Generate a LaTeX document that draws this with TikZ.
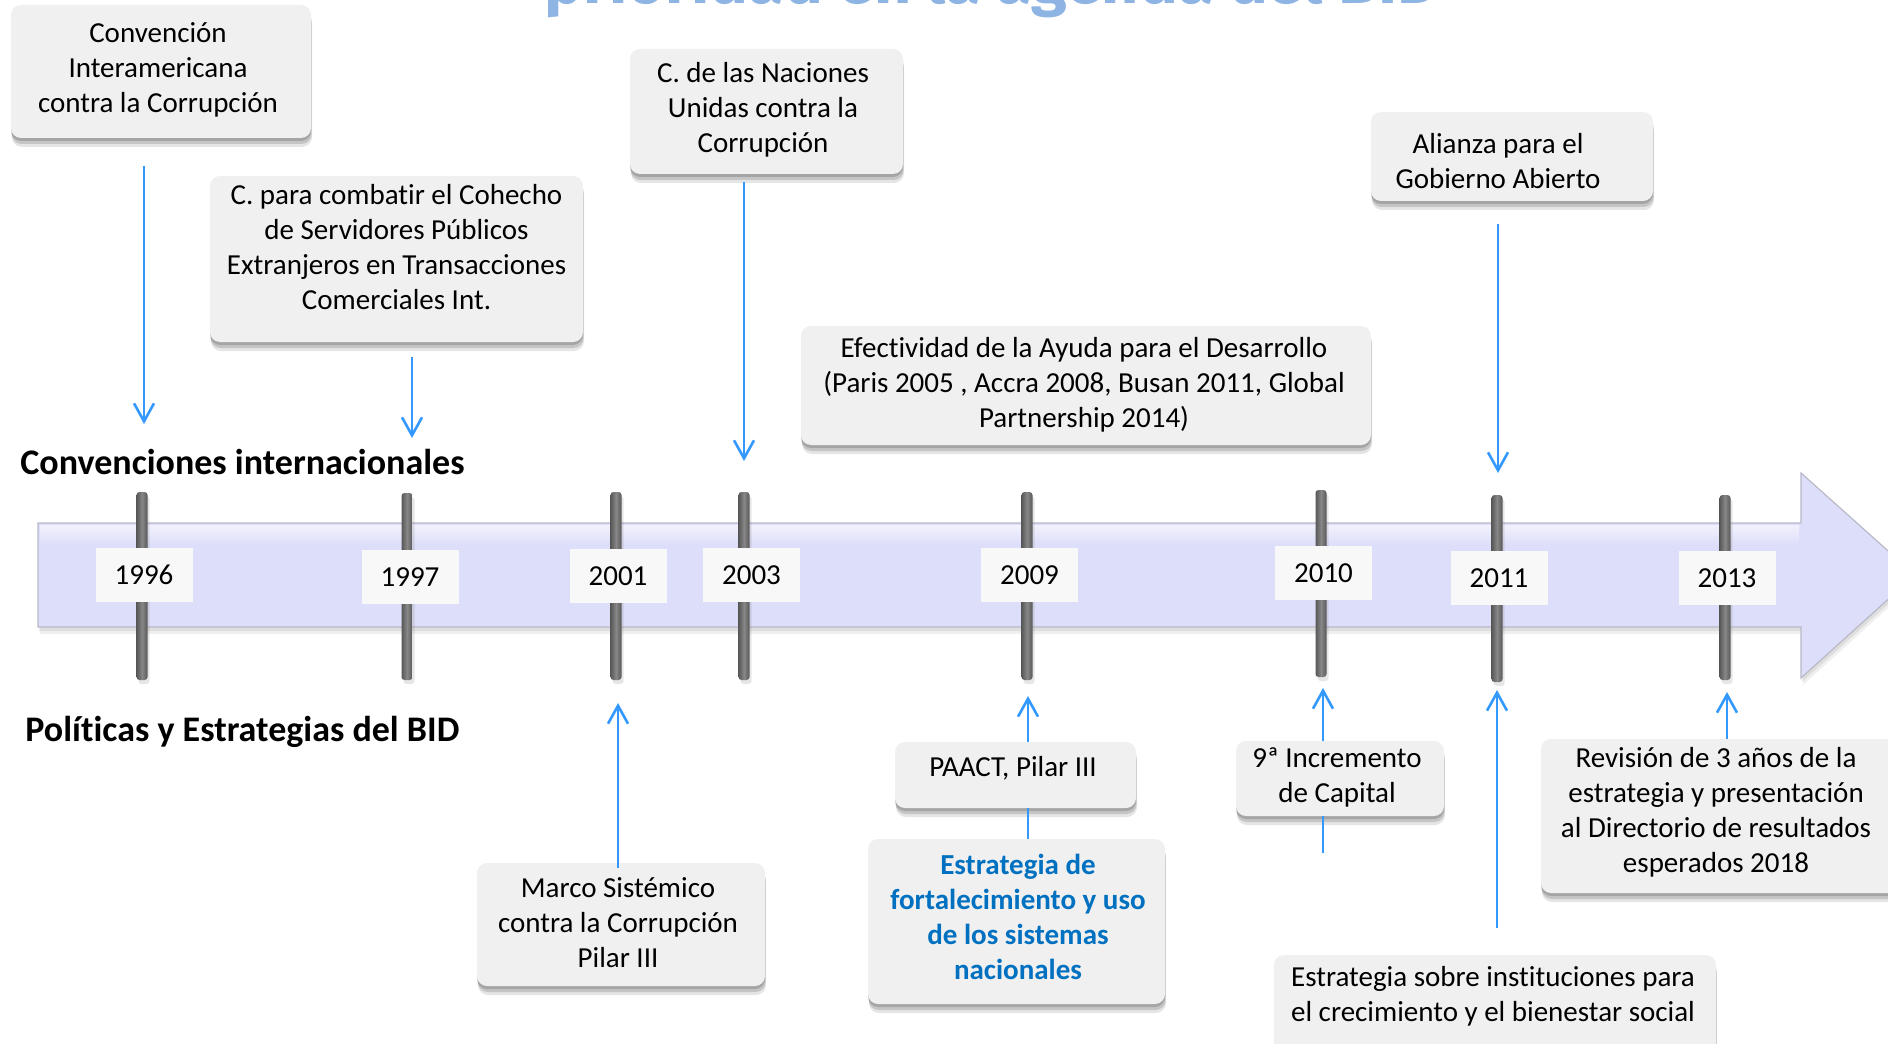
\documentclass[tikz,border=0pt]{standalone}
\usepackage{fontspec}
\setmainfont{Carlito}[Ligatures=NoCommon]
\newfontfamily\titlefont{Fira Sans}
\usetikzlibrary{arrows.meta,shadows,calc}
\definecolor{lav}{RGB}{221,222,250}
\definecolor{lavedge}{RGB}{185,185,200}
\definecolor{boxfill}{RGB}{240,240,240}
\definecolor{yearfill}{RGB}{248,248,248}
\definecolor{arrblue}{RGB}{51,153,255}
\definecolor{textblue}{RGB}{0,112,192}
\definecolor{titleblue}{RGB}{141,180,226}
\definecolor{tickdark}{RGB}{88,88,88}
\definecolor{ticklight}{RGB}{135,135,135}
\begin{document}
\begin{tikzpicture}[x=0.5pt,y=-0.5pt,
  box/.style={rectangle, rounded corners=5pt, fill=boxfill, draw=none,
    drop shadow={shadow xshift=0.5pt, shadow yshift=-4.5pt, opacity=0.10, fill=black},
    drop shadow={shadow xshift=0.3pt, shadow yshift=-3pt, opacity=0.14, fill=black},
    drop shadow={shadow xshift=0pt, shadow yshift=-1.5pt, opacity=0.16, fill=black},
    inner sep=0pt},
  txt/.style={align=center, font=\fontsize{14.5pt}{17.5pt}\selectfont, inner sep=0pt},
  head/.style={anchor=base west, inner sep=0pt, font=\bfseries\fontsize{18pt}{22pt}\selectfont},
  yearbox/.style={rectangle, fill=yearfill, draw=none, inner sep=0pt,
    minimum width=48.5pt, minimum height=27pt, font=\fontsize{14.5pt}{17.5pt}\selectfont},
  tickbar/.style={rounded corners=1.5pt, left color=tickdark, right color=tickdark, middle color=ticklight,
    drop shadow={shadow xshift=1pt, shadow yshift=-2pt, opacity=0.2}},
  arr/.style={draw=arrblue, line width=1.3pt, -{Straight Barb[length=9pt,width=10pt,line width=1.3pt]}},
  conn/.style={draw=arrblue, line width=1.3pt}
]
\path[use as bounding box, clip] (0,0) rectangle (1888,1043);

% title (cut off at top)
\node[anchor=base west, text=titleblue, inner sep=0pt] (title) at (544,4)
  {\resizebox{447.5pt}{!}{\titlefont\bfseries prioridad en la agenda del BID}};

% timeline arrow
\path[fill=lav, draw=lavedge, line width=0.6pt,
  drop shadow={shadow xshift=1pt, shadow yshift=-3.5pt, opacity=0.12},
  drop shadow={shadow xshift=0.5pt, shadow yshift=-2pt, opacity=0.16}]
  (38,523) -- (1801,523) -- (1801,473) -- (1915,575) -- (1801,678) -- (1801,627) -- (38,627) -- cycle;
\path[top color=white, bottom color=lav, opacity=0.6] (40,525) rectangle (1799,545);

% ticks
\foreach \x/\ta/\tb in {142/492/680, 407/493/680, 616/492/680, 744/492/680, 1027/492/680, 1321/490/677, 1497/495/682, 1725/495/680}{
  \path[tickbar] (\x-5.5,\ta) rectangle (\x+5.5,\tb);
}

% year labels
\node[yearbox] (y1996) at (144,575) {1996};
\node[yearbox] (y1997) at (410,577) {1997};
\node[yearbox] (y2001) at (618,576) {2001};
\node[yearbox] (y2003) at (751.5,575) {2003};
\node[yearbox] (y2009) at (1029.5,575) {2009};
\node[yearbox] (y2010) at (1323.5,573) {2010};
\node[yearbox] (y2011) at (1499,578) {2011};
\node[yearbox] (y2013) at (1727,578) {2013};

% headings
\node[head] (hconv) at (20,474) {Convenciones internacionales};
\node[head] (hpol) at (25,741) {Políticas y Estrategias del BID};

% upper boxes
\node[box, minimum width=150pt, minimum height=66.5pt] (b1) at (161,71.5) {};
\node[txt] (t1) at (158,70) {Convención\\Interamericana\\contra la Corrupción};

\node[box, minimum width=186.5pt, minimum height=83pt] (b2) at (396.5,259) {};
\node[txt] (t2) at (396.5,247) {C. para combatir el Cohecho\\de Servidores Públicos\\Extranjeros en Transacciones\\Comerciales Int.};

\node[box, minimum width=136.5pt, minimum height=62.5pt] (b3) at (766.5,111.5) {};
\node[txt] (t3) at (763,110) {C. de las Naciones\\Unidas contra la\\Corrupción};

\node[box, minimum width=285pt, minimum height=59.5pt] (b4) at (1086,385.5) {};
\node[txt] (t4) at (1084,385) {Efectividad de la Ayuda para el Desarrollo\\(Paris 2005 , Accra 2008, Busan 2011, Global\\Partnership 2014)};

\node[box, minimum width=141pt, minimum height=44.5pt] (b5) at (1512,156.5) {};
\node[txt] (t5) at (1498,161) {Alianza para el\\Gobierno Abierto};

% lower boxes
\node[box, minimum width=144pt, minimum height=61.5pt] (b6) at (621,924.5) {};
\node[txt] (t6) at (618,923) {Marco Sistémico\\contra la Corrupción\\Pilar III};

\node[box, minimum width=120.5pt, minimum height=33pt] (b7) at (1015.5,775) {};
\node[txt] (t7) at (1013,768) {PAACT, Pilar III};

\node[box, minimum width=148.5pt, minimum height=82.5pt] (b8) at (1016.5,921.5) {};
\node[txt, text=textblue, font=\bfseries\fontsize{14.5pt}{17.5pt}\selectfont] (t8) at (1018,917) {Estrategia de\\fortalecimiento y uso\\de los sistemas\\nacionales};

\node[box, minimum width=104pt, minimum height=37.5pt] (b9) at (1340,778.5) {};
\node[txt] (t9) at (1337,777) {9ª Incremento\\de Capital};

\node[box, minimum width=179.5pt, minimum height=77pt] (b10) at (1720.5,816) {};
\node[txt] (t10) at (1716,812) {Revisión de 3 años de la\\estrategia y presentación\\al Directorio de resultados\\esperados 2018};

\node[box, minimum width=221pt, minimum height=52.5pt] (b11) at (1495,1007.5) {};
\node[txt] (t11) at (1493,996) {Estrategia sobre instituciones para\\el crecimiento y el bienestar social};

% connector end points
\coordinate (a1s) at (144,166);  \coordinate (a1e) at (144,424);
\coordinate (a2s) at (412,357);  \coordinate (a2e) at (412,438);
\coordinate (a3s) at (744,182);  \coordinate (a3e) at (744,461);
\coordinate (a5s) at (1498,224); \coordinate (a5e) at (1498,473);
\coordinate (a6s) at (618,868);  \coordinate (a6e) at (618,703);
\coordinate (a7s) at (1028,742); \coordinate (a7e) at (1028,696);
\coordinate (a7b) at (1028,808); \coordinate (a8t) at (1028,839);
\coordinate (a9s) at (1323,741); \coordinate (a9e) at (1323,688);
\coordinate (a9b) at (1323,816); \coordinate (a9f) at (1323,853);
\coordinate (a11s) at (1497,928); \coordinate (a11e) at (1497,690);
\coordinate (a10s) at (1727,739); \coordinate (a10e) at (1727,692);

\draw[arr] (a1s) -- (a1e);
\draw[arr] (a2s) -- (a2e);
\draw[arr] (a3s) -- (a3e);
\draw[arr] (a5s) -- (a5e);
\draw[arr] (a6s) -- (a6e);
\draw[arr] (a7s) -- (a7e);
\draw[conn] (a7b) -- (a8t);
\draw[arr] (a9s) -- (a9e);
\draw[conn] (a9b) -- (a9f);
\draw[arr] (a11s) -- (a11e);
\draw[arr] (a10s) -- (a10e);
\end{tikzpicture}
\end{document}
